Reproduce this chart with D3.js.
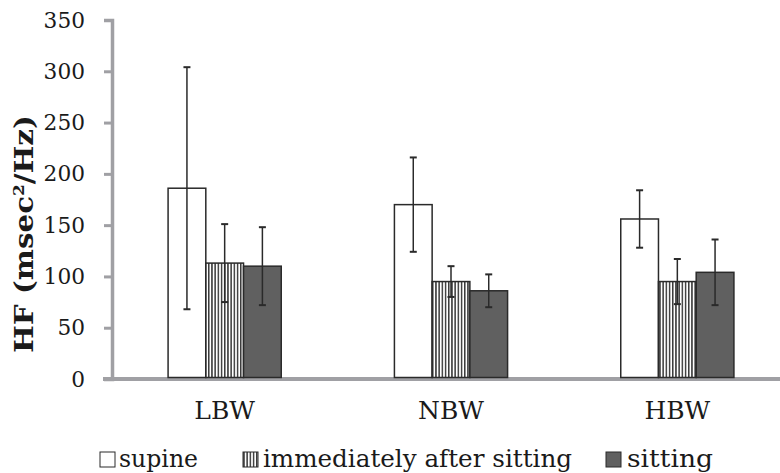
<!DOCTYPE html>
<html><head><meta charset="utf-8">
<script src="https://cdn.jsdelivr.net/npm/d3@7/dist/d3.min.js"></script>
<style>body{margin:0;background:#fff}svg{display:block}</style>
</head><body>
<script>
const categories = ["LBW", "NBW", "HBW"];
const seriesNames = ["supine", "immediately after sitting", "sitting"];
const supine = [186, 170, 156];
const immediately = [113, 95, 95];
const sitting = [110, 86, 104];
const supineSD = [118, 46, 28];
const immediatelySD = [38, 15, 22];
const sittingSD = [38, 16, 32];
const yTicks = [0, 50, 100, 150, 200, 250, 300, 350];

const W = 780, H = 473;
const FONT = "DejaVu Serif";
const svg = d3.select("body").append("svg").attr("width", W).attr("height", H);
const defs = svg.append("defs");
const pat = defs.append("pattern").attr("id", "stripes").attr("patternUnits", "userSpaceOnUse")
  .attr("width", 3.2).attr("height", 10);
pat.append("rect").attr("width", 3.2).attr("height", 10).attr("fill", "#fff");
pat.append("rect").attr("width", 1.5).attr("height", 10).attr("fill", "#3a3a3a");

const y = d3.scaleLinear().domain([0, 350]).range([379, 20]);
const x0 = d3.scaleBand().domain(categories).range([111.5, 790.5]).paddingInner(0.5).paddingOuter(0.25);
const x1 = d3.scaleBand().domain(seriesNames).range([0, x0.bandwidth()]);

const vals = [supine, immediately, sitting];
const sds = [supineSD, immediatelySD, sittingSD];
const fills = ["#fff", "url(#stripes)", "#606060"];

const rows = [];
categories.forEach((c, i) => seriesNames.forEach((s, j) => rows.push({c, s, j, v: vals[j][i], sd: sds[j][i]})));

// y axis
const yAxis = d3.axisLeft(y).tickValues(yTicks).tickSize(8).tickPadding(19);
const gy = svg.append("g").attr("transform", "translate(112,0)").call(yAxis);
gy.select(".domain").attr("stroke", "#a0a0a4").attr("stroke-width", 3.5);
gy.selectAll(".tick line").attr("stroke", "#a0a0a4").attr("stroke-width", 3);
gy.selectAll("text").attr("font-family", FONT).attr("font-size", 22).attr("fill", "#1a1a1a")
  .attr("textLength", d => String(d).length * 13.8).attr("lengthAdjust", "spacingAndGlyphs");

// x axis
const xAxis = d3.axisBottom(x0).tickSize(0).tickPadding(22);
const gx = svg.append("g").attr("transform", "translate(0,379)").call(xAxis);
gx.select(".domain").attr("d", "M103,0H780").attr("stroke", "#a0a0a4").attr("stroke-width", 4);
gx.selectAll("text").attr("font-family", FONT).attr("font-size", 25).attr("fill", "#1a1a1a");

// bars
svg.append("g").selectAll("rect").data(rows).join("rect")
  .attr("x", d => x0(d.c) + x1(d.s))
  .attr("y", d => y(d.v))
  .attr("width", x1.bandwidth())
  .attr("height", d => y(0) - 1.5 - y(d.v))
  .attr("fill", d => fills[d.j])
  .attr("stroke", "#2a2a2a").attr("stroke-width", 1.5);

// error bars
const eg = svg.append("g").attr("stroke", "#2a2a2a").attr("stroke-width", 1.5);
rows.forEach(d => {
  const cx = x0(d.c) + x1(d.s) + x1.bandwidth() / 2;
  eg.append("line").attr("x1", cx).attr("x2", cx).attr("y1", y(d.v + d.sd)).attr("y2", y(d.v - d.sd));
  [d.v + d.sd, d.v - d.sd].forEach(t => eg.append("line").attr("x1", cx - 3.5).attr("x2", cx + 3.5).attr("y1", y(t)).attr("y2", y(t)).attr("stroke-width", 2));
});

// y label
svg.append("text").attr("transform", "translate(33,234) rotate(-90)").attr("text-anchor", "middle")
  .attr("font-family", FONT).attr("font-weight", "bold").attr("font-size", 26).attr("fill", "#1a1a1a")
  .attr("textLength", 238).attr("lengthAdjust", "spacingAndGlyphs")
  .html('HF (msec<tspan dy="-9" font-size="15">2</tspan><tspan dy="9">/Hz)</tspan>');

// legend
const legX = [100, 243, 606];
const legTextX = [119, 263, 627];
const legTextW = [79, 309, 86];
const lg = svg.append("g");
seriesNames.forEach((s, j) => {
  lg.append("rect").attr("x", legX[j]).attr("y", 452).attr("width", 15).attr("height", 15)
    .attr("fill", fills[j]).attr("stroke", "#2a2a2a").attr("stroke-width", 1);
  lg.append("text").attr("x", legTextX[j]).attr("y", 467).attr("font-family", FONT)
    .attr("font-size", 24).attr("fill", "#1a1a1a")
    .attr("textLength", legTextW[j]).attr("lengthAdjust", "spacingAndGlyphs").text(s);
});
</script>
</body></html>
